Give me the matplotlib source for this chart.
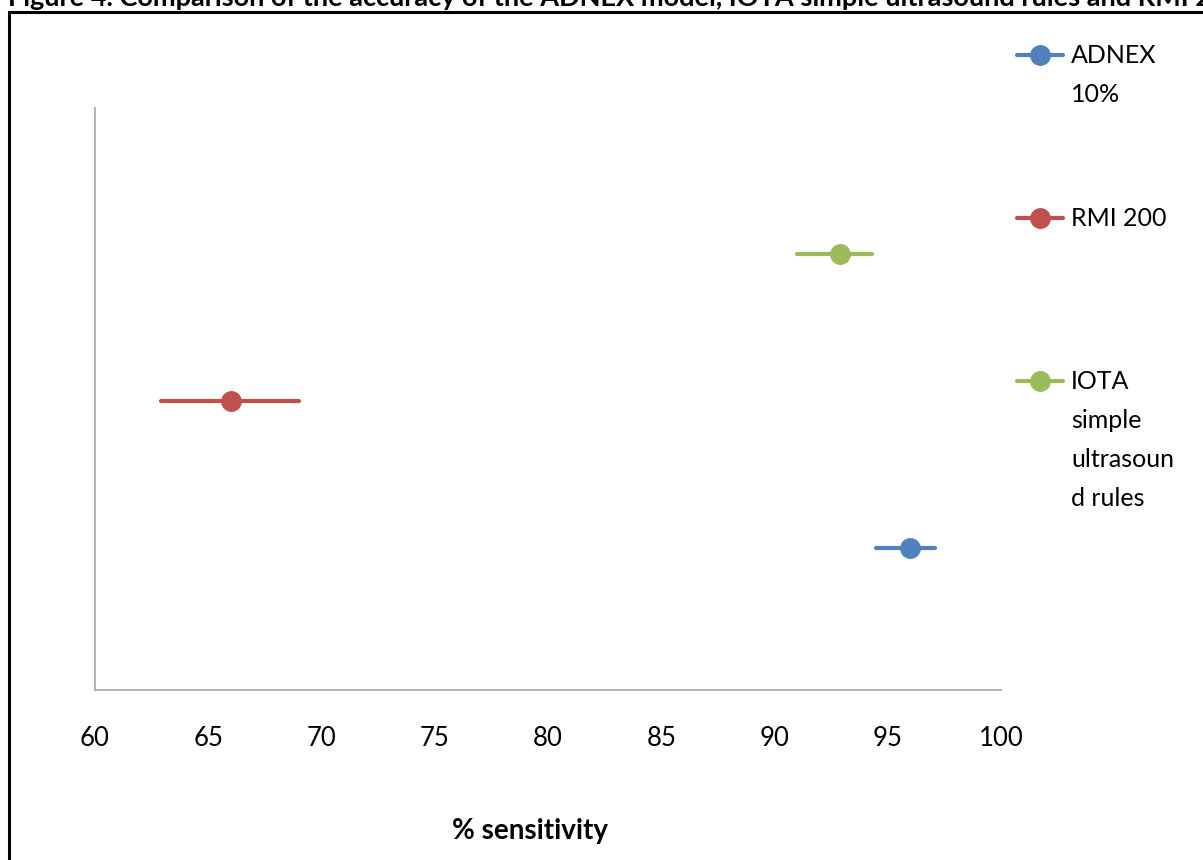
import matplotlib
matplotlib.use("Agg")
import matplotlib.pyplot as plt
from matplotlib.lines import Line2D
from matplotlib.patches import Rectangle

# ---- data ----
methods = ["ADNEX 10%", "RMI 200", "IOTA simple ultrasound rules"]
legend_labels = ["ADNEX\n10%", "RMI 200", "IOTA\nsimple\nultrasoun\nd rules"]
sensitivity = [96.0, 66.0, 92.9]
ci_low = [94.5, 62.9, 91.0]
ci_high = [97.1, 69.0, 94.3]
row = [1, 2, 3]
colors = ["#4F81BD", "#C0504D", "#9BBB59"]
xticks = [60, 65, 70, 75, 80, 85, 90, 95, 100]
title = ("Figure 4. Comparison of the accuracy of the ADNEX model, IOTA simple "
         "ultrasound rules and RMI 200")
xlabel = "% sensitivity"

plt.rcParams['font.family'] = ['Lato', 'DejaVu Sans']

W, H = 1203, 860
fig = plt.figure(figsize=(W / 100, H / 100), dpi=100)

def fx(px):
    return px / W

def fy(py):
    return 1 - py / H

ax = fig.add_axes([fx(95), fy(690), fx(1001) - fx(95), fy(108) - fy(690)])

for m, s, lo, hi, y, c in zip(methods, sensitivity, ci_low, ci_high, row, colors):
    ax.plot([lo, hi], [y, y], color=c, lw=3, solid_capstyle='round', zorder=2)
    ax.plot([s], [y], 'o', color=c, markersize=14, zorder=3)

ax.set_xlim(60, 100)
ax.set_ylim(0.034, 3.993)
ax.set_xticks(xticks)
ax.set_xticklabels([str(t) for t in xticks], fontsize=18.5)
ax.tick_params(axis='x', length=0, pad=26)
ax.set_yticks([])
for side in ['top', 'right']:
    ax.spines[side].set_visible(False)
for side in ['left', 'bottom']:
    ax.spines[side].set_color('#A6A6A6')
    ax.spines[side].set_linewidth(1.2)

fig.text(fx(530), fy(831), xlabel, ha='center', va='center',
         fontsize=20, fontweight='bold')

# legend (manual to match the layout)
leg_y = [55, 218, 381]
for lab, c, py in zip(legend_labels, colors, leg_y):
    fig.add_artist(Line2D([fx(1017), fx(1063)], [fy(py), fy(py)], color=c, lw=3,
                          solid_capstyle='round', transform=fig.transFigure))
    fig.add_artist(Line2D([fx(1040)], [fy(py)], marker='o', markersize=14, color=c,
                          transform=fig.transFigure))
    fig.text(fx(1071), fy(py - 11), lab, ha='left', va='top', fontsize=18,
             linespacing=1.85)

# border frame (cut off at right/bottom)
fig.add_artist(Rectangle((fx(9), -0.2), 2.0, fy(12) + 0.2, fill=False,
                         edgecolor='black', lw=2.2, transform=fig.transFigure))

# title, cut off at top as in the reference
fig.text(fx(8), fy(6), title, ha='left', va='baseline', fontsize=19.5,
         fontweight='bold')

fig.savefig("out.png", dpi=100)
